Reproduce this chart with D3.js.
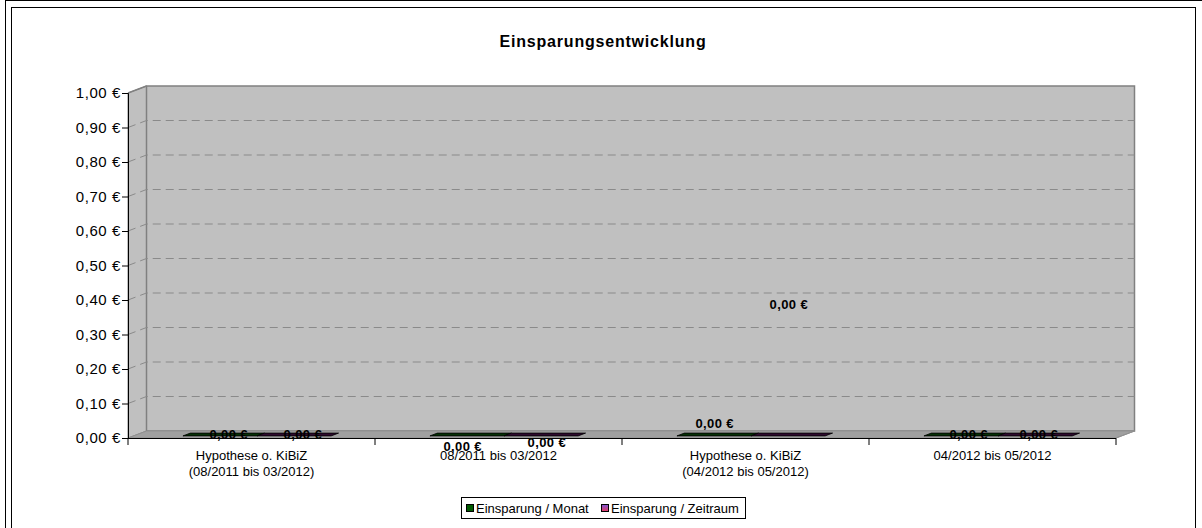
<!DOCTYPE html>
<html><head><meta charset="utf-8">
<script src="https://cdn.jsdelivr.net/npm/d3@7"></script>
<style>body{margin:0;background:#fff}svg{display:block;font-family:"Liberation Sans",Arial,sans-serif}</style>
</head><body>
<svg id="c" width="1202" height="528"></svg>
<script>
const categories = [["Hypothese o. KiBiZ","(08/2011 bis 03/2012)"],["08/2011 bis 03/2012"],["Hypothese o. KiBiZ","(04/2012 bis 05/2012)"],["04/2012 bis 05/2012"]];
const seriesNames = ["Einsparung / Monat","Einsparung / Zeitraum"];
const monat = [0,0,0,0];
const zeitraum = [0,0,0,0];
const yTicks = [0,0.1,0.2,0.3,0.4,0.5,0.6,0.7,0.8,0.9,1.0];
// label layout tweaks (px) per series per category
const labelDx = [[5,-8,-3,4],[5,2,-3,0]];
const labelDy = [[-4,8,-15,-4],[-4,4,-134,-4]];

const svg = d3.select("#c");
const fmt = v => d3.format(".2f")(v).replace(".", ",") + " €";
// frames
svg.append("rect").attr("x",5.5).attr("y",0.5).attr("width",1202).attr("height",540).attr("fill","none").attr("stroke","#000");
svg.append("rect").attr("x",11.5).attr("y",7.5).attr("width",1184).attr("height",540).attr("fill","#fff").attr("stroke","#000");

const X0 = 128, X1 = 1116, Y0 = 438, Y1 = 93, DX = 18.5, DY = -7;
const x = d3.scaleBand().domain(d3.range(categories.length)).range([X0, X1]);
const y = d3.scaleLinear().domain([0, 1]).range([Y0, Y1]);
const g = svg.append("g");

// side wall
g.append("polygon").attr("points",[[X0,Y0],[X0+DX,Y0+DY],[X0+DX,Y1+DY],[X0,Y1]].join(" ")).attr("fill","#c0c0c0").attr("stroke","#808080");
// back wall
g.append("rect").attr("x",X0+DX).attr("y",Y1+DY).attr("width",X1-X0).attr("height",Y0-Y1).attr("fill","#c0c0c0").attr("stroke","#808080").attr("stroke-width",1.5);
// floor
g.append("polygon").attr("points",[[X0,Y0],[X0+DX,Y0+DY],[X1+DX,Y0+DY],[X1,Y0]].join(" ")).attr("fill","#a0a0a0").attr("stroke","#909090");

// gridlines
yTicks.filter(t => t > 0 && t < 1).forEach(t => {
  g.append("path").attr("d",`M${X0},${y(t)}L${X0+DX},${y(t)+DY}H${X1+DX}`)
   .attr("fill","none").attr("stroke","#8a8a8a").attr("stroke-dasharray","8,5");
});
g.append("path").attr("d",`M${X0},${Y1}L${X0+DX},${Y1+DY}`).attr("stroke","#808080").attr("stroke-width",1.5);

// bars (zero height → flat top faces)
const colors = ["#063006","#2e0a2e"];
const data = [monat, zeitraum];
const groupW = x.bandwidth()*0.6;
const xs = d3.scaleBand().domain([0,1]).range([0, groupW]);
data.forEach((arr, s) => {
  arr.forEach((v, i) => {
    const bx = x(i) + (x.bandwidth()-groupW)/2 + xs(s);
    const w = xs.bandwidth();
    const yb = y(v);
    const f1 = 0.3, f2 = 0.7;
    const p = [[bx+DX*f1, yb+DY*f1],[bx+w+DX*f1, yb+DY*f1],[bx+w+DX*f2, yb+DY*f2],[bx+DX*f2, yb+DY*f2]];
    g.append("polygon").attr("points",p.join(" ")).attr("fill",colors[s]).attr("stroke","#000").attr("stroke-width",0.8);
  });
});

// axes
const yAxis = d3.axisLeft(y).tickValues(yTicks).tickSize(6).tickFormat(fmt);
const ya = svg.append("g").attr("transform",`translate(${X0},0)`).call(yAxis);
ya.select(".domain").attr("stroke","#000");
ya.selectAll("text").attr("font-size",15).attr("letter-spacing",0.6).attr("font-family","Liberation Sans, Arial").attr("fill","#000").attr("x",-7);
svg.append("line").attr("x1",X0).attr("x2",X1).attr("y1",Y0+0.5).attr("y2",Y0+0.5).attr("stroke","#000");
d3.range(categories.length+1).forEach(i => {
  const tx = X0 + i*x.bandwidth();
  svg.append("line").attr("x1",tx).attr("x2",tx).attr("y1",Y0).attr("y2",Y0+7).attr("stroke","#000");
});
// floor edge right
svg.append("path").attr("d",`M${X1},${Y0}L${X1+DX},${Y0+DY}`).attr("stroke","#909090");

// category labels
categories.forEach((c, i) => {
  const t = svg.append("text").attr("x", x(i)+x.bandwidth()/2).attr("y", Y0+22).attr("text-anchor","middle").attr("font-size",13).attr("fill","#000");
  c.forEach((line, k) => t.append("tspan").attr("x", x(i)+x.bandwidth()/2).attr("dy", k ? 16 : 0).text(line));
});

// value labels
data.forEach((arr, s) => {
  arr.forEach((v, i) => {
    const cx = x(i) + (x.bandwidth()-groupW)/2 + xs(s) + xs.bandwidth()/2 + DX*0.5;
    svg.append("text").attr("x", cx + labelDx[s][i]).attr("y", y(v) + labelDy[s][i]).attr("dy","0.35em")
      .attr("text-anchor","middle").attr("font-size",13).attr("letter-spacing",0.4).attr("font-weight","bold").attr("fill","#000").text(fmt(v));
  });
});

// title
svg.append("text").attr("x",603).attr("y",47).attr("text-anchor","middle").attr("font-size",16).attr("letter-spacing",0.8).attr("font-weight","bold").text("Einsparungsentwicklung");

// legend
const lg = svg.append("g");
lg.append("rect").attr("x",461.5).attr("y",497.5).attr("width",284).attr("height",21).attr("fill","#fff").attr("stroke","#000");
const grad = svg.append("defs").append("linearGradient").attr("id","pg").attr("x1",0).attr("y1",0).attr("x2",0).attr("y2",1);
grad.append("stop").attr("offset",0).attr("stop-color","#7a5ad8");
grad.append("stop").attr("offset",1).attr("stop-color","#e83860");
const swFill = ["#005a00","url(#pg)"];
const lx = [466, 601];
seriesNames.forEach((n, s) => {
  lg.append("rect").attr("x",lx[s]+0.5).attr("y",504.5).attr("width",7).attr("height",7).attr("fill",swFill[s]).attr("stroke","#000");
  lg.append("text").attr("x",lx[s]+10).attr("y",512.5).attr("font-size",13).attr("fill","#000").text(n);
});
</script>
</body></html>
